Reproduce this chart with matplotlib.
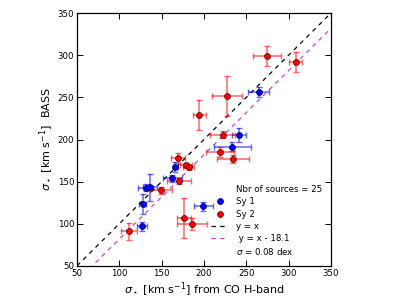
import matplotlib
matplotlib.use("Agg")
import matplotlib.pyplot as plt
from matplotlib.lines import Line2D
import numpy as np

# Sy 1 (blue)
sy1_x = [264.9, 241.2, 233.4, 166.3, 162.8, 131.2, 136.8, 127.7, 126.5, 199.4]
sy1_y = [256.3, 205.7, 191.5, 167.7, 153.9, 142.9, 143.3, 123.6, 96.9, 120.9]
sy1_xerr = [12.4, 8.3, 21.7, 3.0, 11.4, 9.0, 8.3, 4.0, 6.0, 11.0]
sy1_yerr = [6.0, 8.5, 5.5, 6.0, 4.0, 4.0, 15.7, 12.0, 5.0, 5.5]

# Sy 2 (red)
sy2_x = [274.8, 308.3, 227.0, 194.7, 222.3, 218.8, 234.2, 169.1, 179.3, 182.1,
         170.3, 149.0, 177.0, 186.0, 111.5]
sy2_y = [298.6, 292.3, 251.6, 229.4, 205.6, 185.0, 176.8, 178.0, 169.7, 166.9,
         150.8, 139.8, 106.7, 99.6, 91.0]
sy2_xerr = [16.7, 7.7, 18.0, 7.5, 15.0, 16.6, 19.3, 8.0, 7.0, 6.5,
            14.0, 13.0, 8.3, 18.0, 10.0]
sy2_yerr = [11.9, 12.0, 24.0, 18.0, 4.0, 6.0, 4.5, 6.3, 3.0, 3.0,
            4.0, 4.0, 23.6, 7.0, 10.0]

n_sources = 25
offset = 18.1
scatter_dex = 0.08
lims = [50, 350]
ticks = [50, 100, 150, 200, 250, 300, 350]

plt.rcParams['font.family'] = ['DejaVu Sans']
plt.rcParams['mathtext.fontset'] = 'dejavusans'

fig = plt.figure(figsize=(4.07, 3.05), dpi=100)
ax = fig.add_axes([0.189, 0.128, 0.624, 0.829])

line_x = np.array(lims)
ax.plot(line_x, line_x, color='black', ls='--', dashes=(3.5, 3.5), lw=0.9, zorder=1)
ax.plot(line_x, line_x - offset, color='#cc44cc', ls='--', dashes=(3.5, 3.5), lw=0.9, zorder=1)

ax.errorbar(sy1_x, sy1_y, xerr=sy1_xerr, yerr=sy1_yerr, fmt='none',
            ecolor='blue', elinewidth=1.1, capsize=2.5, capthick=1.0, alpha=0.6, zorder=2)
ax.errorbar(sy2_x, sy2_y, xerr=sy2_xerr, yerr=sy2_yerr, fmt='none',
            ecolor='red', elinewidth=1.1, capsize=2.5, capthick=1.0, alpha=0.6, zorder=2)
ax.plot(sy1_x, sy1_y, 'o', color='blue', mec='#000044', mew=0.5, ms=4.3, zorder=3)
ax.plot(sy2_x, sy2_y, 'o', color='red', mec='#440000', mew=0.5, ms=4.3, zorder=3)

ax.set_xlim(lims)
ax.set_ylim(lims)
ax.set_xticks(ticks)
ax.set_yticks(ticks)
ax.tick_params(direction='in', top=True, right=True, length=4, width=0.7,
               labelsize=6.2, pad=2)
for s in ax.spines.values():
    s.set_linewidth(0.9)

ax.set_xlabel(r'$\sigma_\star$ [km s$^{-1}$] from CO H-band', fontsize=8, labelpad=2)
ax.set_ylabel(r'$\sigma_\star$ [km s$^{-1}$]  BASS', fontsize=8, labelpad=1)

empty = Line2D([], [], linestyle='none', marker='none')
h1 = Line2D([], [], linestyle='none', marker='o', color='blue', mec='#000044', mew=0.5, ms=4.3)
h2 = Line2D([], [], linestyle='none', marker='o', color='red', mec='#440000', mew=0.5, ms=4.3)
h3 = Line2D([], [], color='black', ls='--', dashes=(3.5, 3.5), lw=0.9)
h4 = Line2D([], [], color='#cc44cc', ls='--', dashes=(3.5, 3.5), lw=0.9)
handles = [empty, h1, h2, h3, h4, empty]
labels = ['Nbr of sources = %d' % n_sources, 'Sy 1', 'Sy 2', 'y = x',
          ' y = x - %.1f' % offset, r'$\sigma$ = %.2f dex' % scatter_dex]
leg = ax.legend(handles, labels, loc='lower right', frameon=False, fontsize=6.2,
                handlelength=2.0, handletextpad=0.9, labelspacing=0.38,
                bbox_to_anchor=(1.0, 0.0), borderaxespad=0.6)

fig.savefig('out.png', dpi=100)
